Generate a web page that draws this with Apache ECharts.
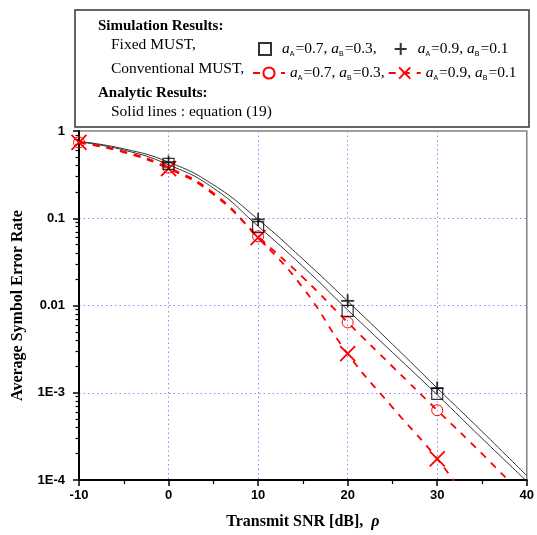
<!DOCTYPE html>
<html>
<head>
<meta charset="utf-8">
<script src="https://cdn.jsdelivr.net/npm/echarts@6/dist/echarts.min.js"></script>
<style>html,body{margin:0;padding:0;background:#fff;}#c{width:537px;height:535px;}</style>
</head>
<body>
<div id="c"></div>
<script>
// ---- data ----
const snrDb = [-10, -5, 0, 5, 10, 15, 20, 25, 30, 35, 40];
const analytic07 = [0.75, 0.605, 0.41, 0.222, 0.081, 0.028, 0.0089, 0.0029, 0.00095, 0.0003, 0.000097];
const analytic09 = [0.76, 0.625, 0.44, 0.242, 0.097, 0.034, 0.0112, 0.0036, 0.00113, 0.00036, 0.000112];
const simSnr = [0, 10, 20, 30];
const fixedSim07 = [0.42, 0.079, 0.0087, 0.00097];
const fixedSim09 = [0.44, 0.097, 0.0113, 0.00113];
const conv07 = [0.74, 0.58, 0.38, 0.195, 0.062, 0.021, 0.0064, 0.002, 0.00063, 0.0002, 0.00006];
const conv09 = [0.74, 0.57, 0.37, 0.188, 0.06, 0.016, 0.0028, 0.00068, 0.000175, 0.000035, 0.00001];
const convMarkerSnr = [-10, 0, 10, 20, 30];
const yTickLabels = {'0': '1', '-1': '0.1', '-2': '0.01', '-3': '1E-3', '-4': '1E-4'};
const minorYTicks = [];
[0.0001, 0.001, 0.01, 0.1].forEach(function (d) { for (let k = 2; k <= 9; k++) minorYTicks.push(d * k); });

const legendLabels = {
  'fix07': '{g| }{i|a}{s|A}{t|=0.7, }{i|a}{s|B}{t|=0.3,}',
  'fix09': '{g| }{i|a}{s|A}{t|=0.9, }{i|a}{s|B}{t|=0.1}',
  'conv07': '{i|a}{s|A}{t|=0.7, }{i|a}{s|B}{t|=0.3,}',
  'conv09': '{i|a}{s|A}{t|=0.9, }{i|a}{s|B}{t|=0.1}'
};

const serif = 'Liberation Serif';
const sans = 'Liberation Sans';
const plusPath = 'path://M0,5 L10,5 M5,0 L5,10';
const crossPath = 'path://M0,0 L10,10 M10,0 L0,10';

function pairs(xs, ys) { return xs.map(function (x, i) { return [x, ys[i]]; }); }
function convData(ys) {
  return snrDb.map(function (x, i) {
    const item = {value: [x, ys[i]]};
    if (convMarkerSnr.indexOf(x) < 0) item.symbol = 'none';
    return item;
  });
}

const legendRich = {
  g: {width: 6, fontSize: 10},
  i: {fontFamily: serif, fontStyle: 'italic', fontSize: 15.5, color: '#000', lineHeight: 18, verticalAlign: 'middle'},
  t: {fontFamily: serif, fontSize: 15.5, color: '#000', lineHeight: 18, verticalAlign: 'middle'},
  s: {fontFamily: sans, fontSize: 7, color: '#000', lineHeight: 18, verticalAlign: 'bottom', padding: [0, 1, 0, 0]}
};

const chart = echarts.init(document.getElementById('c'), null, {renderer: 'canvas'});
chart.setOption({
  animation: false,
  backgroundColor: '#fff',
  grid: {left: 79, right: 7, top: 131, bottom: 54, show: true, borderColor: '#808080', borderWidth: 1.5, backgroundColor: 'transparent'},
  xAxis: {
    type: 'value', min: -10, max: 40, interval: 10,
    axisLine: {onZero: false, lineStyle: {color: '#000', width: 2}},
    axisTick: {show: true, inside: false, length: 6, lineStyle: {color: '#000', width: 1.5}},
    minorTick: {show: true, splitNumber: 2, length: 4, lineStyle: {color: '#000', width: 1.2}},
    axisLabel: {fontFamily: sans, fontWeight: 'bold', fontSize: 13, color: '#000', margin: 9},
    splitLine: {show: true, showMinLine: false, showMaxLine: false, lineStyle: {color: '#8c8cff', type: [1.5, 3], width: 1}},
    name: '{b|Transmit SNR [dB],  }{r|ρ}',
    nameLocation: 'middle', nameGap: 34,
    nameTextStyle: {rich: {
      b: {fontFamily: serif, fontWeight: 'bold', fontSize: 16, color: '#000'},
      r: {fontFamily: serif, fontStyle: 'italic', fontWeight: 'bold', fontSize: 16, color: '#000'}
    }}
  },
  yAxis: [{
    type: 'log', logBase: 10, min: 0.0001, max: 1,
    position: 'left',
    axisLine: {onZero: false, lineStyle: {color: '#000', width: 2}},
    axisTick: {show: true, inside: false, length: 6, lineStyle: {color: '#000', width: 1.5}},
    axisLabel: {fontFamily: sans, fontWeight: 'bold', fontSize: 13, color: '#000', margin: 14,
      formatter: function (v) { return yTickLabels[String(Math.round(Math.log10(v)))] || ''; }},
    splitLine: {show: true, showMinLine: false, showMaxLine: false, lineStyle: {color: '#8c8cff', type: [1.5, 3], width: 1}},
    name: 'Average Symbol Error Rate',
    nameLocation: 'middle', nameGap: 53,
    nameTextStyle: {fontFamily: serif, fontWeight: 'bold', fontSize: 16, color: '#000'}
  }, {
    type: 'log', logBase: 10, min: 0.0001, max: 1,
    position: 'left',
    axisLine: {show: false, onZero: false},
    axisTick: {show: true, inside: false, length: 3.5, customValues: minorYTicks, lineStyle: {color: '#000', width: 1.2}},
    axisLabel: {show: false},
    splitLine: {show: false}
  }],
  legend: [{
    left: 253, top: 36, itemGap: 17, itemWidth: 12, itemHeight: 12,
    selectedMode: false,
    data: ['fix07', 'fix09'],
    formatter: function (n) { return legendLabels[n]; },
    textStyle: {fontFamily: serif, fontSize: 15, color: '#000', rich: legendRich}
  }, {
    left: 247, top: 60, itemGap: 3, itemWidth: 32, itemHeight: 14,
    selectedMode: false,
    itemStyle: {color: '#fff'},
    data: ['conv07', 'conv09'],
    formatter: function (n) { return legendLabels[n]; },
    textStyle: {fontFamily: serif, fontSize: 15, color: '#000', rich: legendRich}
  }],
  graphic: [
    {type: 'rect', shape: {x: 75, y: 10, width: 454, height: 117}, style: {fill: 'none', stroke: '#333', lineWidth: 1.5}, z: 10},
    {type: 'text', x: 98, y: 26, style: {text: 'Simulation Results:', font: 'bold 15px "Liberation Serif"', fill: '#000', verticalAlign: 'middle'}, z: 10},
    {type: 'text', x: 111, y: 45, style: {text: 'Fixed MUST,', font: '15.5px "Liberation Serif"', fill: '#000', verticalAlign: 'middle'}, z: 10},
    {type: 'text', x: 111, y: 69, style: {text: 'Conventional MUST,', font: '15.5px "Liberation Serif"', fill: '#000', verticalAlign: 'middle'}, z: 10},
    {type: 'text', x: 98, y: 93, style: {text: 'Analytic Results:', font: 'bold 15px "Liberation Serif"', fill: '#000', verticalAlign: 'middle'}, z: 10},
    {type: 'text', x: 111, y: 112, style: {text: 'Solid lines : equation (19)', font: '15.5px "Liberation Serif"', fill: '#000', verticalAlign: 'middle'}, z: 10}
  ],
  series: [
    {name: 'analytic07', type: 'line', data: pairs(snrDb, analytic07), showSymbol: false, symbol: 'none', smooth: 0.5,
      lineStyle: {color: '#333', width: 1}, z: 2},
    {name: 'analytic09', type: 'line', data: pairs(snrDb, analytic09), showSymbol: false, symbol: 'none', smooth: 0.5,
      lineStyle: {color: '#333', width: 1}, z: 2},
    {name: 'conv07', type: 'line', data: convData(conv07), smooth: 0.5,
      symbol: 'circle', symbolSize: 11, showAllSymbol: true,
      itemStyle: {color: 'transparent', borderColor: '#ff0000', borderWidth: 1},
      lineStyle: {color: '#ff0000', width: 1.8, type: [7, 7]}, z: 3},
    {name: 'conv09', type: 'line', data: convData(conv09), smooth: 0.5,
      symbol: crossPath, symbolSize: 15, showAllSymbol: true,
      itemStyle: {color: 'transparent', borderColor: '#ff0000', borderWidth: 1.8},
      lineStyle: {color: '#ff0000', width: 1.8, type: [7, 7]}, z: 3},
    {name: 'fix07', type: 'scatter', data: pairs(simSnr, fixedSim07), symbol: 'rect', symbolSize: 11,
      itemStyle: {color: 'transparent', borderColor: '#000', borderWidth: 1.2}, z: 4},
    {name: 'fix09', type: 'scatter', data: pairs(simSnr, fixedSim09), symbol: plusPath, symbolSize: 13,
      itemStyle: {color: 'transparent', borderColor: '#000', borderWidth: 1.8}, z: 4}
  ]
});
</script>
</body>
</html>
